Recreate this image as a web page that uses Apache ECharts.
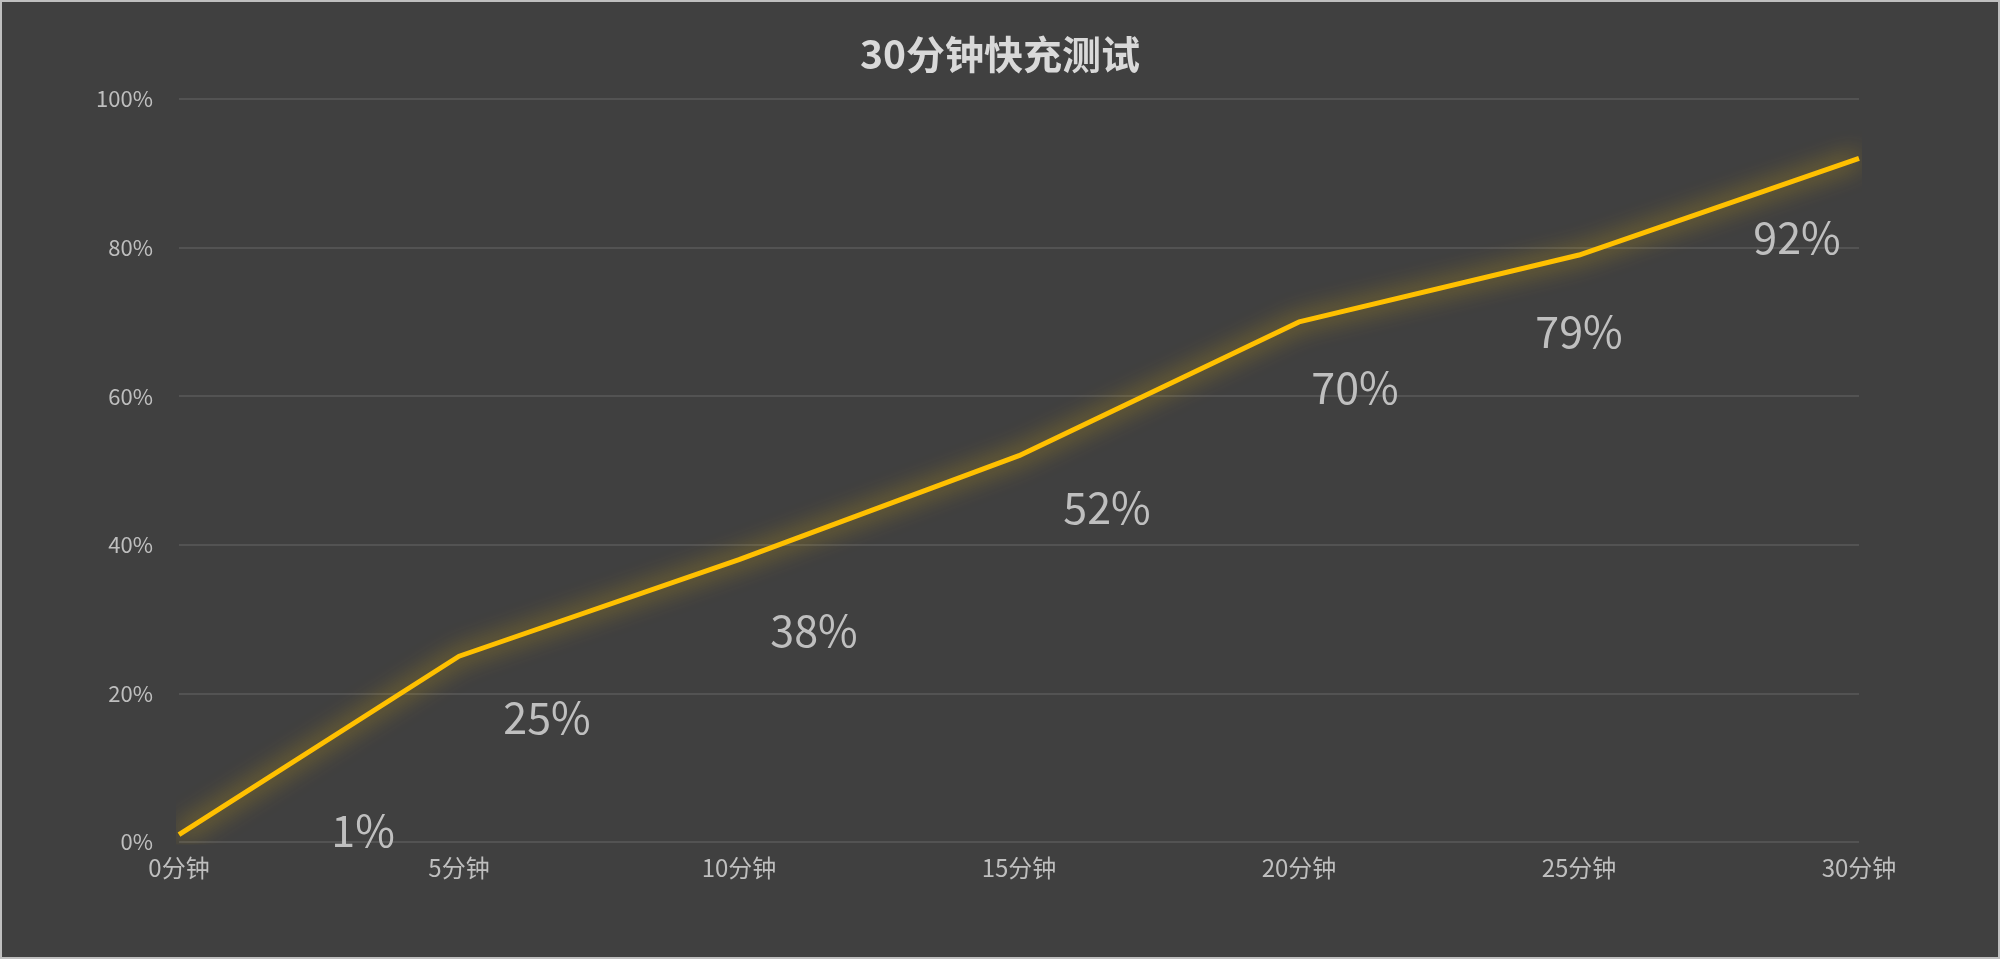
<!DOCTYPE html>
<html><head><meta charset="utf-8">
<script src="https://cdn.jsdelivr.net/npm/echarts@6/dist/echarts.min.js"></script>
<style>html,body{margin:0;padding:0;background:#404040}#c{width:2000px;height:959px;box-sizing:border-box;border:2px solid #bfbfbf}</style>
</head><body><div id="c"></div>
<script>
const categories = ['0分钟','5分钟','10分钟','15分钟','20分钟','25分钟','30分钟'];
const values = [1, 25, 38, 52, 70, 79, 92];
const yTicks = [0, 20, 40, 60, 80, 100];
const labelOffsets = [[184,-4],[88,61],[75,71],[88,52],[56,66],[0,77],[-62,79]];
const chart = echarts.init(document.getElementById('c'));
chart.setOption({
  backgroundColor: '#404040',
  title: { text: '30分钟快充测试', left: 'center', top: 28,
    textStyle: { color: '#d9d9d9', fontSize: 39, fontWeight: 'bold', fontFamily: 'Noto Sans CJK SC' } },
  grid: { left: 177, right: 139, top: 97, bottom: 115 },
  xAxis: { type: 'category', data: categories, boundaryGap: false,
    axisLine: { show: false }, axisTick: { show: false },
    axisLabel: { color: '#bfbfbf', fontSize: 24, margin: 14, fontFamily: 'Noto Sans CJK SC' } },
  yAxis: { type: 'value', min: yTicks[0], max: yTicks[yTicks.length-1], interval: 20,
    axisLabel: { formatter: '{value}%', color: '#bfbfbf', fontSize: 22, margin: 26, fontFamily: 'Noto Sans CJK SC' },
    splitLine: { lineStyle: { color: '#5a5a5a', width: 1.5 } } },
  series: [{
    type: 'line', symbol: 'circle', symbolSize: 0.1, showSymbol: true,
    itemStyle: { color: 'rgba(0,0,0,0)' },
    data: values.map((v, i) => ({ value: v, label: { offset: labelOffsets[i] } })),
    lineStyle: { color: '#FFC000', width: 5, shadowColor: 'rgba(255,200,0,0.85)', shadowBlur: 24 },
    label: { show: true, position: 'inside', formatter: '{c}%', color: '#bfbfbf', fontSize: 43, fontFamily: 'Noto Sans CJK SC' }
  }]
});
</script></body></html>
